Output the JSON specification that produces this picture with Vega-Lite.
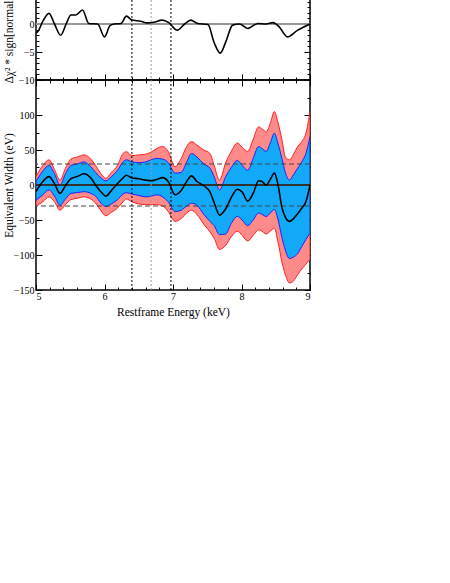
{
  "$schema": "https://vega.github.io/schema/vega-lite/v6.json",
  "padding": {"left": 2, "top": -38, "right": 0, "bottom": 0},
  "autosize": {"type": "pad"},
  "background": "white",
  "spacing": 0,
  "bounds": "flush",
  "config": {
    "font": "Liberation Serif",
    "view": {"stroke": "black", "strokeWidth": 1.5},
    "axis": {
      "domain": false, "grid": false, "tickColor": "black", "tickWidth": 1,
      "labelFont": "Liberation Serif", "labelFontSize": 10, "labelColor": "black",
      "titleFont": "Liberation Serif", "titleFontSize": 11.5, "titleFontWeight": "normal", "titleColor": "black"
    }
  },
  "datasets": {
    "res": [
      {"E": 5.00, "dchi": -1.6}, {"E": 5.03, "dchi": -1.3}, {"E": 5.10, "dchi": 0.5}, {"E": 5.19, "dchi": 1.9},
      {"E": 5.27, "dchi": 0.0}, {"E": 5.36, "dchi": -2.0}, {"E": 5.44, "dchi": 0.0}, {"E": 5.51, "dchi": 1.6},
      {"E": 5.58, "dchi": 1.6}, {"E": 5.68, "dchi": 2.5}, {"E": 5.77, "dchi": 0.1}, {"E": 5.90, "dchi": 0.0},
      {"E": 6.00, "dchi": -2.3}, {"E": 6.08, "dchi": -0.3}, {"E": 6.14, "dchi": 0.0}, {"E": 6.24, "dchi": 0.1},
      {"E": 6.32, "dchi": 1.4}, {"E": 6.40, "dchi": 0.7}, {"E": 6.53, "dchi": 0.5}, {"E": 6.62, "dchi": 0.2},
      {"E": 6.72, "dchi": 0.3}, {"E": 6.84, "dchi": 0.7}, {"E": 6.94, "dchi": 0.25}, {"E": 7.06, "dchi": -1.1},
      {"E": 7.17, "dchi": 0.0}, {"E": 7.26, "dchi": 0.7}, {"E": 7.36, "dchi": 0.1}, {"E": 7.51, "dchi": -0.1},
      {"E": 7.60, "dchi": -3.3}, {"E": 7.69, "dchi": -5.2}, {"E": 7.77, "dchi": -3.2}, {"E": 7.87, "dchi": -0.2},
      {"E": 7.97, "dchi": 0.0}, {"E": 8.09, "dchi": -0.8}, {"E": 8.24, "dchi": 0.1}, {"E": 8.36, "dchi": 0.0},
      {"E": 8.46, "dchi": 0.25}, {"E": 8.55, "dchi": -0.5}, {"E": 8.67, "dchi": -2.3}, {"E": 8.82, "dchi": -1.1},
      {"E": 9.00, "dchi": 0.0}
    ],
    "ew": [
      {"E": 5.00, "lo90": -30, "lo68": -22, "ew": -9.5, "hi68": 5, "hi90": 12},
      {"E": 5.10, "lo90": -24, "lo68": -14, "ew": 5, "hi68": 20, "hi90": 28},
      {"E": 5.19, "lo90": -17, "lo68": -7, "ew": 12, "hi68": 28, "hi90": 36},
      {"E": 5.27, "lo90": -24, "lo68": -16, "ew": 2, "hi68": 16, "hi90": 22},
      {"E": 5.35, "lo90": -36, "lo68": -29, "ew": -12, "hi68": 0, "hi90": 7},
      {"E": 5.43, "lo90": -28, "lo68": -20, "ew": -1, "hi68": 16, "hi90": 24},
      {"E": 5.51, "lo90": -21, "lo68": -12, "ew": 9, "hi68": 28, "hi90": 37},
      {"E": 5.60, "lo90": -19, "lo68": -11, "ew": 12, "hi68": 30, "hi90": 40},
      {"E": 5.70, "lo90": -17, "lo68": -9.5, "ew": 16, "hi68": 33, "hi90": 43},
      {"E": 5.80, "lo90": -20, "lo68": -12, "ew": 10, "hi68": 26, "hi90": 37},
      {"E": 5.87, "lo90": -26, "lo68": -16, "ew": 0, "hi68": 18, "hi90": 28},
      {"E": 5.95, "lo90": -37, "lo68": -26, "ew": -10, "hi68": 10, "hi90": 16},
      {"E": 6.02, "lo90": -44, "lo68": -31, "ew": -16, "hi68": 6, "hi90": 9.5},
      {"E": 6.10, "lo90": -39, "lo68": -27, "ew": -8, "hi68": 12, "hi90": 18},
      {"E": 6.19, "lo90": -33, "lo68": -21, "ew": 2, "hi68": 21, "hi90": 28},
      {"E": 6.27, "lo90": -24, "lo68": -13, "ew": 10, "hi68": 33, "hi90": 45},
      {"E": 6.32, "lo90": -20, "lo68": -11, "ew": 14, "hi68": 36, "hi90": 47.6},
      {"E": 6.40, "lo90": -24, "lo68": -13, "ew": 10, "hi68": 33, "hi90": 42},
      {"E": 6.50, "lo90": -27, "lo68": -15, "ew": 9, "hi68": 32, "hi90": 43},
      {"E": 6.60, "lo90": -28, "lo68": -17, "ew": 7, "hi68": 33, "hi90": 44},
      {"E": 6.68, "lo90": -28, "lo68": -16, "ew": 6, "hi68": 36, "hi90": 47},
      {"E": 6.76, "lo90": -28, "lo68": -14, "ew": 8, "hi68": 38, "hi90": 52},
      {"E": 6.85, "lo90": -30, "lo68": -17, "ew": 10.5, "hi68": 37, "hi90": 55},
      {"E": 6.93, "lo90": -38, "lo68": -24, "ew": 5, "hi68": 32, "hi90": 48},
      {"E": 7.03, "lo90": -52, "lo68": -38, "ew": -14, "hi68": 17, "hi90": 26},
      {"E": 7.12, "lo90": -48, "lo68": -36, "ew": -8, "hi68": 18, "hi90": 38},
      {"E": 7.20, "lo90": -40, "lo68": -30, "ew": 5, "hi68": 33, "hi90": 55},
      {"E": 7.27, "lo90": -36, "lo68": -26, "ew": 13, "hi68": 45, "hi90": 62},
      {"E": 7.35, "lo90": -42, "lo68": -29, "ew": 5, "hi68": 40, "hi90": 57},
      {"E": 7.45, "lo90": -56, "lo68": -42, "ew": -1, "hi68": 30, "hi90": 50},
      {"E": 7.54, "lo90": -67, "lo68": -52, "ew": -10, "hi68": 24, "hi90": 45},
      {"E": 7.60, "lo90": -76, "lo68": -58, "ew": -25, "hi68": 12, "hi90": 28},
      {"E": 7.68, "lo90": -92, "lo68": -71, "ew": -43, "hi68": -7, "hi90": 7},
      {"E": 7.77, "lo90": -86, "lo68": -70, "ew": -34, "hi68": 12, "hi90": 32},
      {"E": 7.85, "lo90": -74, "lo68": -55, "ew": -18, "hi68": 25, "hi90": 48},
      {"E": 7.94, "lo90": -66, "lo68": -45, "ew": -6, "hi68": 35, "hi90": 60},
      {"E": 8.01, "lo90": -72, "lo68": -50, "ew": -10, "hi68": 28, "hi90": 54},
      {"E": 8.09, "lo90": -80, "lo68": -58, "ew": -23, "hi68": 21, "hi90": 48},
      {"E": 8.17, "lo90": -72, "lo68": -50, "ew": -12, "hi68": 38, "hi90": 65},
      {"E": 8.25, "lo90": -64, "lo68": -40, "ew": 6, "hi68": 55, "hi90": 83},
      {"E": 8.30, "lo90": -66, "lo68": -42, "ew": 5, "hi68": 52, "hi90": 80},
      {"E": 8.36, "lo90": -70, "lo68": -45, "ew": 0, "hi68": 48, "hi90": 76},
      {"E": 8.42, "lo90": -66, "lo68": -40, "ew": 8, "hi68": 60, "hi90": 88},
      {"E": 8.48, "lo90": -62, "lo68": -35, "ew": 17, "hi68": 74, "hi90": 105},
      {"E": 8.53, "lo90": -80, "lo68": -48, "ew": 2, "hi68": 60, "hi90": 90},
      {"E": 8.59, "lo90": -110, "lo68": -75, "ew": -32, "hi68": 38, "hi90": 65},
      {"E": 8.64, "lo90": -128, "lo68": -93, "ew": -46, "hi68": 18, "hi90": 40},
      {"E": 8.70, "lo90": -140, "lo68": -105, "ew": -52, "hi68": 7, "hi90": 36},
      {"E": 8.76, "lo90": -137, "lo68": -103, "ew": -48, "hi68": 15, "hi90": 44},
      {"E": 8.82, "lo90": -128, "lo68": -98, "ew": -41, "hi68": 24, "hi90": 55},
      {"E": 8.88, "lo90": -120, "lo68": -88, "ew": -33, "hi68": 33, "hi90": 62},
      {"E": 8.94, "lo90": -113, "lo68": -78, "ew": -24, "hi68": 45, "hi90": 74},
      {"E": 9.00, "lo90": -106, "lo68": -69, "ew": 0, "hi68": 69, "hi90": 105}
    ],
    "lines": [
      {"E": 6.40, "ion": "Fe I Kα"},
      {"E": 6.68, "ion": "Fe XXV"},
      {"E": 6.97, "ion": "Fe XXVI"}
    ],
    "thr": [{"limit": 30}, {"limit": -30}]
  },
  "vconcat": [
    {
      "width": 274,
      "height": 112,
      "resolve": {"axis": {"x": "independent", "y": "independent"}},
      "layer": [
        {
          "data": {"name": "res"},
          "mark": {"type": "rule", "color": "#999999", "strokeWidth": 1.5},
          "encoding": {"y": {"datum": 0, "type": "quantitative", "scale": {"domain": [-10, 10], "nice": false, "zero": false}, "axis": null}}
        },
        {
          "data": {"name": "lines"},
          "mark": {"type": "rule", "strokeWidth": 1, "strokeDash": [2, 2]},
          "encoding": {
            "x": {"field": "E", "type": "quantitative", "scale": {"domain": [5, 9], "nice": false, "zero": false}, "axis": null},
            "color": {"field": "ion", "type": "nominal", "scale": {"domain": ["Fe I Kα", "Fe XXV", "Fe XXVI"], "range": ["#000000", "#999999", "#000000"]}, "legend": null}
          }
        },
        {
          "data": {"name": "res"},
          "mark": {"type": "line", "color": "black", "strokeWidth": 1.6, "interpolate": "monotone", "clip": true},
          "encoding": {
            "x": {"field": "E", "type": "quantitative", "scale": {"domain": [5, 9], "nice": false, "zero": false},
              "axis": {"orient": "bottom", "values": [5,5.2,5.4,5.6,5.8,6,6.2,6.4,6.6,6.8,7,7.2,7.4,7.6,7.8,8,8.2,8.4,8.6,8.8,9],
                "tickSize": {"condition": {"test": "abs(datum.value-round(datum.value))<0.01", "value": -6}, "value": -3},
                "labels": false, "title": null}},
            "y": {"field": "dchi", "type": "quantitative", "scale": {"domain": [-10, 10], "nice": false, "zero": false},
              "axis": {"orient": "left", "values": [-10,-9,-8,-7,-6,-5,-4,-3,-2,-1,0,1,2,3,4,5,6,7,8,9,10],
                "tickSize": {"condition": {"test": "datum.value % 5 === 0", "value": -6}, "value": -3},
                "labelExpr": "datum.value % 5 === 0 ? format(datum.value, '.0f') : ''", "labelPadding": 8,
                "title": "Δχ² * sign[normalization]", "titleX": -22}}
          }
        },
        {
          "data": {"name": "res"},
          "mark": {"type": "point", "opacity": 0},
          "encoding": {
            "x": {"field": "E", "type": "quantitative", "scale": {"domain": [5, 9], "nice": false, "zero": false},
              "axis": {"orient": "top", "values": [5,5.2,5.4,5.6,5.8,6,6.2,6.4,6.6,6.8,7,7.2,7.4,7.6,7.8,8,8.2,8.4,8.6,8.8,9],
                "tickSize": {"condition": {"test": "abs(datum.value-round(datum.value))<0.01", "value": -6}, "value": -3},
                "labels": false, "title": null}},
            "y": {"field": "dchi", "type": "quantitative", "scale": {"domain": [-10, 10], "nice": false, "zero": false},
              "axis": {"orient": "right", "values": [-10,-9,-8,-7,-6,-5,-4,-3,-2,-1,0,1,2,3,4,5,6,7,8,9,10],
                "tickSize": {"condition": {"test": "datum.value % 5 === 0", "value": -6}, "value": -3},
                "labels": false, "title": null}}
          }
        }
      ]
    },
    {
      "width": 274,
      "height": 210,
      "resolve": {"axis": {"x": "independent", "y": "independent"}},
      "layer": [
        {
          "data": {"name": "ew"},
          "mark": {"type": "area", "fill": "#ff8a8a", "stroke": "#ff2020", "strokeWidth": 1, "interpolate": "monotone", "clip": true},
          "encoding": {
            "x": {"field": "E", "type": "quantitative", "scale": {"domain": [5, 9], "nice": false, "zero": false},
              "axis": {"orient": "top", "values": [5,5.2,5.4,5.6,5.8,6,6.2,6.4,6.6,6.8,7,7.2,7.4,7.6,7.8,8,8.2,8.4,8.6,8.8,9],
                "tickSize": {"condition": {"test": "abs(datum.value-round(datum.value))<0.01", "value": -6}, "value": -3},
                "labels": false, "title": null}},
            "y": {"field": "lo90", "type": "quantitative", "scale": {"domain": [-150, 150], "nice": false, "zero": false},
              "axis": {"orient": "right", "values": [-150,-125,-100,-75,-50,-25,0,25,50,75,100,125,150],
                "tickSize": {"condition": {"test": "datum.value % 50 === 0", "value": -6}, "value": -3},
                "labels": false, "title": null}},
            "y2": {"field": "hi90"}
          }
        },
        {
          "data": {"name": "ew"},
          "mark": {"type": "area", "fill": "#12aaf8", "stroke": "#2020ff", "strokeWidth": 1, "interpolate": "monotone", "clip": true},
          "encoding": {
            "x": {"field": "E", "type": "quantitative", "scale": {"domain": [5, 9], "nice": false, "zero": false}, "axis": null},
            "y": {"field": "lo68", "type": "quantitative", "scale": {"domain": [-150, 150], "nice": false, "zero": false}, "axis": null},
            "y2": {"field": "hi68"}
          }
        },
        {
          "data": {"name": "ew"},
          "mark": {"type": "rule", "color": "#333333", "strokeWidth": 1},
          "encoding": {"y": {"datum": 0, "type": "quantitative", "scale": {"domain": [-150, 150], "nice": false, "zero": false}, "axis": null}}
        },
        {
          "data": {"name": "thr"},
          "mark": {"type": "rule", "color": "#444444", "strokeWidth": 1.2, "strokeDash": [5, 3]},
          "encoding": {"y": {"field": "limit", "type": "quantitative", "scale": {"domain": [-150, 150], "nice": false, "zero": false}, "axis": null}}
        },
        {
          "data": {"name": "lines"},
          "mark": {"type": "rule", "strokeWidth": 1, "strokeDash": [2, 2]},
          "encoding": {
            "x": {"field": "E", "type": "quantitative", "scale": {"domain": [5, 9], "nice": false, "zero": false}, "axis": null},
            "color": {"field": "ion", "type": "nominal", "scale": {"domain": ["Fe I Kα", "Fe XXV", "Fe XXVI"], "range": ["#000000", "#999999", "#000000"]}, "legend": null}
          }
        },
        {
          "data": {"name": "ew"},
          "mark": {"type": "line", "color": "black", "strokeWidth": 1.6, "interpolate": "monotone", "clip": true},
          "encoding": {
            "x": {"field": "E", "type": "quantitative", "scale": {"domain": [5, 9], "nice": false, "zero": false},
              "axis": {"orient": "bottom", "values": [5,5.2,5.4,5.6,5.8,6,6.2,6.4,6.6,6.8,7,7.2,7.4,7.6,7.8,8,8.2,8.4,8.6,8.8,9],
                "tickSize": {"condition": {"test": "abs(datum.value-round(datum.value))<0.01", "value": -6}, "value": -3},
                "labelExpr": "abs(datum.value-round(datum.value))<0.01 ? format(datum.value, '.0f') : ''", "labelPadding": 7,
                "title": "Restframe Energy (keV)", "titlePadding": 5}},
            "y": {"field": "ew", "type": "quantitative", "scale": {"domain": [-150, 150], "nice": false, "zero": false},
              "axis": {"orient": "left", "values": [-150,-125,-100,-75,-50,-25,0,25,50,75,100,125,150],
                "tickSize": {"condition": {"test": "datum.value % 50 === 0", "value": -6}, "value": -3},
                "labelExpr": "datum.value % 50 === 0 && datum.value < 150 ? format(datum.value, '.0f') : ''", "labelPadding": 8,
                "title": "Equivalent Width (eV)", "titleX": -22}}
          }
        }
      ]
    }
  ]
}
